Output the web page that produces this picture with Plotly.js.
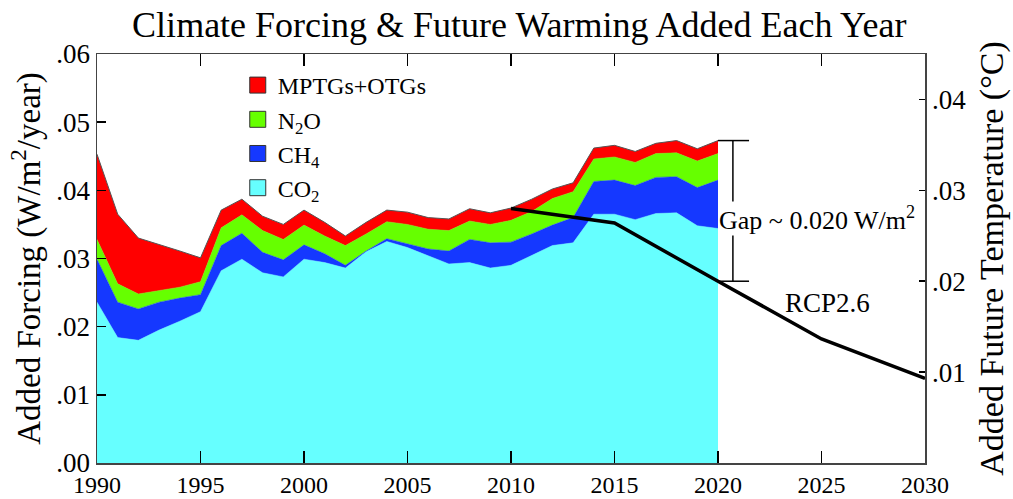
<!DOCTYPE html>
<html><head><meta charset="utf-8">
<script src="https://cdn.plot.ly/plotly-3.0.1.min.js"></script>
<style>html,body{margin:0;padding:0;background:#fff}#chart{width:1013px;height:499px}</style>
</head><body><div id="chart"></div>
<script>
// ---- data ----
const years = [1990,1991,1992,1993,1994,1995,1996,1997,1998,1999,2000,2001,2002,2003,2004,2005,2006,2007,2008,2009,2010,2011,2012,2013,2014,2015,2016,2017,2018,2019,2020];
const co2  = [0.0236,0.0184,0.0180,0.0195,0.0208,0.0222,0.0282,0.0299,0.0279,0.0273,0.0299,0.0294,0.0286,0.0310,0.0325,0.0316,0.0304,0.0292,0.0294,0.0286,0.0290,0.0304,0.0319,0.0323,0.0365,0.0365,0.0357,0.0366,0.0367,0.0348,0.0344];
const ch4  = [0.0063,0.0052,0.0046,0.0041,0.0034,0.0025,0.0037,0.0038,0.0030,0.0025,0.0021,0.0013,0.0004,0.0001,0.0004,0.0005,0.0010,0.0019,0.0034,0.0037,0.0034,0.0032,0.0030,0.0037,0.0048,0.0050,0.0050,0.0053,0.0053,0.0056,0.0071];
const n2o  = [0.0029,0.0027,0.0022,0.0017,0.0016,0.0019,0.0026,0.0027,0.0032,0.0030,0.0029,0.0026,0.0029,0.0025,0.0025,0.0029,0.0029,0.0030,0.0027,0.0027,0.0032,0.0033,0.0039,0.0038,0.0033,0.0034,0.0034,0.0035,0.0035,0.0039,0.0039];
const mptg = [0.0125,0.0102,0.0082,0.0068,0.0053,0.0035,0.0026,0.0023,0.0021,0.0022,0.0022,0.0020,0.0014,0.0017,0.0017,0.0018,0.0017,0.0017,0.0018,0.0017,0.0018,0.0018,0.0014,0.0013,0.0016,0.0017,0.0016,0.0015,0.0018,0.0018,0.0019];
const rcpYears = [2010,2015,2020,2025,2030];
const rcpTemp  = [0.0280,0.0264,0.0200,0.01365,0.0093];
const seriesNames = ['CO<sub>2</sub>','CH<sub>4</sub>','N<sub>2</sub>O','MPTGs+OTGs'];
const xTickVals = [1990,1995,2000,2005,2010,2015,2020,2025,2030];
const yTickVals = [0,0.01,0.02,0.03,0.04,0.05,0.06];
const yTickText = ['.00','.01','.02','.03','.04','.05','.06'];
const y2TickVals = [0.01,0.02,0.03,0.04];
const y2TickText = ['.01','.02','.03','.04'];
const titleText = 'Climate Forcing &amp; Future Warming Added Each Year';
const yTitle = 'Added Forcing (W/m<sup>2</sup>/year)';
const y2Title = 'Added Future Temperature (°C)';
const gapLabel = 'Gap ~ 0.020 W/m<sup>2</sup>';
const rcpLabel = 'RCP2.6';

// ---- styling ----
const FONT = '"Liberation Serif", "Times New Roman", Times, serif';
const colors = ['#66ffff','#1538ff','#66ff00','#ff0000'];
const yMax = 0.06, y2Max = 0.045;
const series = [co2, ch4, n2o, mptg];

const traces = [];
series.forEach((s, i) => {
  traces.push({
    x: years, y: s, type: 'scatter', mode: 'lines', stackgroup: 'ghg',
    fillcolor: colors[i],
    line: {width: i === 3 ? 1 : 0.5, color: i === 3 ? '#555555' : colors[i]},
    showlegend: false, hoverinfo: 'skip'
  });
});
// legend entries (square swatches)
series.forEach((s, i) => {
  traces.push({
    x: [null], y: [null], type: 'scatter', mode: 'markers', name: seriesNames[i],
    marker: {symbol: 'square', size: 16, color: colors[i], line: {color: '#333', width: 1}},
    showlegend: true, hoverinfo: 'skip'
  });
});
traces.push({
  x: rcpYears, y: rcpTemp, yaxis: 'y2', type: 'scatter', mode: 'lines',
  line: {color: '#000', width: 3.5}, showlegend: false, hoverinfo: 'skip'
});

const last = years.length - 1;
const gapTop = co2[last] + ch4[last] + n2o[last] + mptg[last];
const gapBottom = rcpTemp[rcpYears.indexOf(years[last])] * yMax / y2Max;
const lineStyle = {color: '#000', width: 1.5};

const layout = {
  width: 1013, height: 499,
  margin: {l: 97, r: 88, t: 54, b: 36},
  paper_bgcolor: '#fff', plot_bgcolor: '#fff',
  font: {family: FONT, size: 27, color: '#000'},
  title: {text: titleText, font: {family: FONT, size: 36, color: '#000'},
          x: 0.51, xref: 'paper', xanchor: 'center', y: 0.952, yref: 'container', yanchor: 'middle'},
  xaxis: {range: [1990, 2030], tickvals: xTickVals, ticks: 'inside', ticklen: 12, tickwidth: 1.5,
          tickcolor: '#000', showline: true, linecolor: '#444', linewidth: 1.5, mirror: 'ticks',
          showgrid: false, zeroline: false, tickfont: {family: FONT, size: 24}, fixedrange: true},
  yaxis: {range: [0, yMax], tickvals: yTickVals, ticktext: yTickText, ticks: 'inside', ticklen: 9,
          tickwidth: 1.5, tickcolor: '#000', showline: true, linecolor: '#444', linewidth: 1.5,
          showgrid: false, zeroline: false, tickfont: {family: FONT, size: 27},
          title: {text: yTitle, font: {family: FONT, size: 33}, standoff: 6}},
  yaxis2: {range: [0, y2Max], overlaying: 'y', side: 'right', tickvals: y2TickVals, ticktext: y2TickText,
           ticks: 'inside', ticklen: 6, tickwidth: 1.5, tickcolor: '#000', showline: true,
           linecolor: '#444', linewidth: 1.5, showgrid: false, zeroline: false,
           tickfont: {family: FONT, size: 27},
           title: {text: y2Title, font: {family: FONT, size: 34}, standoff: 14}},
  legend: {x: 0.170, y: 0.978, xanchor: 'left', yanchor: 'top', traceorder: 'reversed',
           bgcolor: 'rgba(0,0,0,0)', borderwidth: 0, font: {family: FONT, size: 24},
           itemwidth: 30, tracegroupgap: 0},
  shapes: [
    {type: 'line', xref: 'x', yref: 'y', x0: 2020.72, x1: 2020.72, y0: gapBottom, y1: gapTop, line: lineStyle},
    {type: 'line', xref: 'x', yref: 'y', x0: 2020, x1: 2021.5, y0: gapTop, y1: gapTop, line: lineStyle},
    {type: 'line', xref: 'x', yref: 'y', x0: 2020, x1: 2021.5, y0: gapBottom, y1: gapBottom, line: lineStyle}
  ],
  annotations: [
    {x: 2020, y: 0.0358, xref: 'x', yref: 'y', text: gapLabel, showarrow: false, xanchor: 'left',
     yanchor: 'middle', bgcolor: '#fff', borderpad: 0, font: {family: FONT, size: 26, color: '#000'}},
    {x: 2025.3, y: 0.0234, xref: 'x', yref: 'y', text: rcpLabel, showarrow: false, xanchor: 'center',
     yanchor: 'middle', font: {family: FONT, size: 27, color: '#000'}}
  ]
};

Plotly.newPlot('chart', traces, layout, {displayModeBar: false, staticPlot: true});
</script>
</body></html>
